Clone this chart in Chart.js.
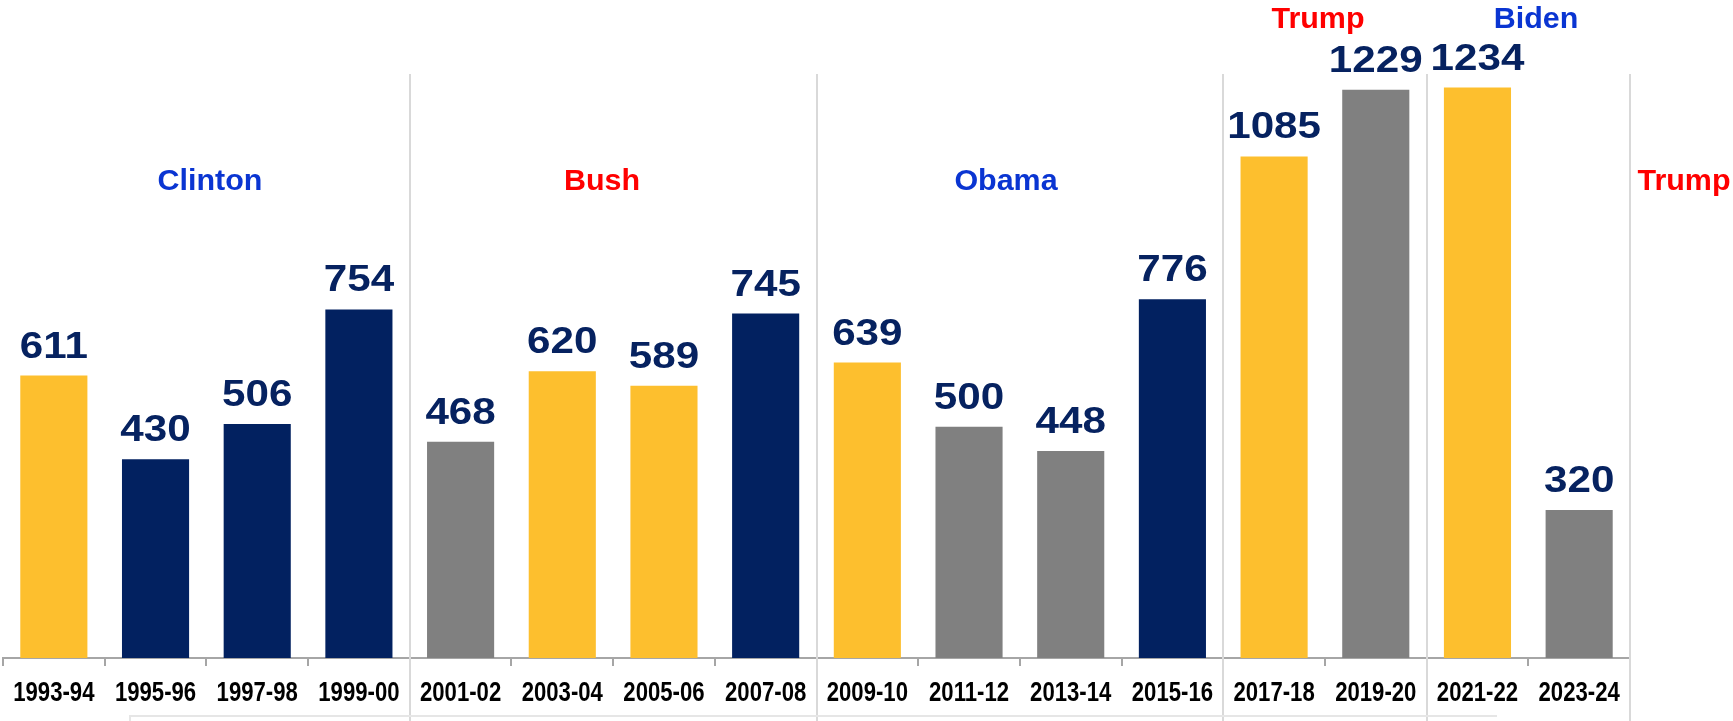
<!DOCTYPE html>
<html>
<head>
<meta charset="utf-8">
<script src="https://cdn.jsdelivr.net/npm/chart.js@4.4.1/dist/chart.umd.min.js"></script>
<style>
  html, body { margin: 0; padding: 0; background: #fff; }
  #wrap { width: 1733px; height: 721px; }
</style>
</head>
<body>
<div id="wrap"><canvas id="chart" width="1733" height="721"></canvas></div>
<script>
// data
const seasons = ['1993-94', '1995-96', '1997-98', '1999-00', '2001-02', '2003-04', '2005-06', '2007-08',
                 '2009-10', '2011-12', '2013-14', '2015-16', '2017-18', '2019-20', '2021-22', '2023-24'];
const counts = [611, 430, 506, 754, 468, 620, 589, 745, 639, 500, 448, 776, 1085, 1229, 1234, 320];
const barKind = ['y', 'n', 'n', 'n', 'g', 'y', 'y', 'n', 'y', 'g', 'g', 'n', 'y', 'g', 'y', 'g'];
const presidents = ['Clinton', 'Bush', 'Obama', 'Trump', 'Biden', 'Trump'];
const termEnds = [4, 8, 12, 14, 16];   // category index where each term stops

const YELLOW = '#FDBF2E';
const NAVY = '#022160';
const GRAY = '#808080';
const kindColor = { y: YELLOW, n: NAVY, g: GRAY };

// where the president names sit (x center, baseline, colour)
const presLabels = [
    { x: 210, y: 190, color: '#0A35D2' },
    { x: 602, y: 190, color: '#FF0000' },
    { x: 1006, y: 190, color: '#0A35D2' },
    { x: 1318, y: 28, color: '#FF0000' },
    { x: 1536, y: 28, color: '#0A35D2' },
    { x: 1684, y: 190, color: '#FF0000' }
];

// text squeezed / stretched sideways to look like the original fonts
function drawScaled(ctx, text, x, y, sx) {
    ctx.save();
    ctx.translate(x, y);
    ctx.scale(sx, 1);
    ctx.fillText(text, 0, 0);
    ctx.restore();
}

const decorPlugin = {
    id: 'decor',
    afterDatasetsDraw(chart) {
        const ctx = chart.ctx;
        const xs = chart.scales.x;
        const meta = chart.getDatasetMeta(0);
        const half = (xs.getPixelForValue(1) - xs.getPixelForValue(0)) / 2;
        const base = chart.chartArea.bottom;

        ctx.save();

        // term separators
        ctx.strokeStyle = '#D9D9D9';
        ctx.lineWidth = 2;
        termEnds.forEach(i => {
            const x = Math.round(xs.getPixelForValue(i - 1) + half);
            ctx.beginPath();
            ctx.moveTo(x, 74);
            ctx.lineTo(x, chart.height);
            ctx.stroke();
        });

        // faint line at the very bottom
        ctx.strokeStyle = '#E6E6E6';
        ctx.lineWidth = 2;
        ctx.beginPath();
        ctx.moveTo(130, chart.height);
        ctx.lineTo(130, 716);
        ctx.lineTo(1497, 716);
        ctx.stroke();

        ctx.textAlign = 'center';
        ctx.textBaseline = 'alphabetic';

        // season labels under the axis (narrow bold)
        ctx.fillStyle = '#000';
        ctx.font = 'bold 27px "Liberation Sans", Arial, sans-serif';
        seasons.forEach((s, i) => {
            drawScaled(ctx, s, xs.getPixelForValue(i), base + 43, 0.82);
        });

        // value labels
        ctx.fillStyle = '#062260';
        ctx.font = 'bold 37px "Liberation Sans", Arial, sans-serif';
        meta.data.forEach((bar, i) => {
            drawScaled(ctx, String(counts[i]), bar.x, bar.y - 18, 1.14);
        });

        // president names
        ctx.font = 'bold 29px "Liberation Sans", Arial, sans-serif';
        presidents.forEach((name, i) => {
            const p = presLabels[i];
            ctx.fillStyle = p.color;
            drawScaled(ctx, name, p.x, p.y, 1.05);
        });

        ctx.restore();
    }
};

new Chart(document.getElementById('chart'), {
    type: 'bar',
    data: {
        labels: seasons,
        datasets: [{
            data: counts,
            backgroundColor: barKind.map(k => kindColor[k]),
            borderWidth: 0,
            categoryPercentage: 1,
            barPercentage: 0.66
        }]
    },
    options: {
        responsive: false,
        animation: false,
        devicePixelRatio: 1,
        layout: { padding: { left: 3, right: 103, top: 57, bottom: 55 } },
        plugins: {
            legend: { display: false },
            tooltip: { enabled: false }
        },
        scales: {
            x: {
                offset: true,
                grid: {
                    offset: true,
                    drawOnChartArea: false,
                    color: '#A6A6A6',
                    tickLength: 8,
                    lineWidth: 2
                },
                border: { display: true, color: '#A6A6A6', width: 2 },
                ticks: { display: false }
            },
            y: {
                display: false,
                min: 0,
                max: 1300
            }
        }
    },
    plugins: [decorPlugin]
});
</script>
</body>
</html>
